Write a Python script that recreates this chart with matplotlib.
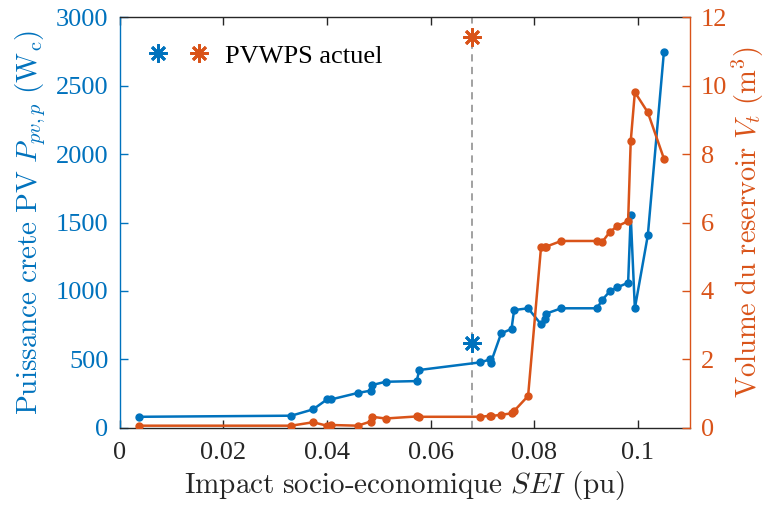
import matplotlib
matplotlib.use("Agg")
import matplotlib.pyplot as plt
from matplotlib.lines import Line2D
from matplotlib.legend_handler import HandlerTuple

# Socio-economic impact of each candidate design (pu)
sei = [0.0038, 0.0331, 0.0373, 0.0400, 0.0408, 0.0459, 0.0484, 0.0487, 0.0513,
       0.0573, 0.0578, 0.0696, 0.0715, 0.0716, 0.0736, 0.0756, 0.0761, 0.0788,
       0.0813, 0.0821, 0.0822, 0.0852, 0.0921, 0.0931, 0.0946, 0.0960, 0.0981,
       0.0986, 0.0994, 0.1019, 0.1050]
# PV peak power (Wc)
p_pv = [80, 88, 134, 207, 207, 254, 271, 312, 336,
        341, 422, 478, 500, 475, 690, 722, 860, 873,
        756, 792, 833, 873, 873, 934, 999, 1026, 1060,
        1552, 873, 1406, 2744]
# Tank volume (m3)
v_t = [0.06, 0.06, 0.16, 0.06, 0.08, 0.06, 0.18, 0.32, 0.27,
       0.33, 0.32, 0.32, 0.35, 0.34, 0.38, 0.42, 0.49, 0.93,
       5.29, 5.29, 5.29, 5.46, 5.46, 5.43, 5.73, 5.89, 6.04,
       8.37, 9.81, 9.22, 7.87]

# Current installed system
sei_current = 0.068
p_current = 617
v_current = 11.41

x_ticks = [0, 0.02, 0.04, 0.06, 0.08, 0.1]
x_tick_labels = ["0", "0.02", "0.04", "0.06", "0.08", "0.1"]
p_ticks = [0, 500, 1000, 1500, 2000, 2500, 3000]
v_ticks = [0, 2, 4, 6, 8, 10, 12]

BLUE = "#0072BD"
ORANGE = "#D95319"
DARK = "#262626"
ASTERISK = (8, 2, 0)

plt.rcParams["font.family"] = ["Liberation Serif", "DejaVu Serif"]
plt.rcParams["mathtext.fontset"] = "cm"

fig = plt.figure(figsize=(7.69, 5.08), dpi=100)
ax = fig.add_axes([0.1557, 0.158, 0.7413, 0.808])
ax2 = ax.twinx()

ax.axvline(sei_current, color="#9a9a9a", ls=(0, (4, 3)), lw=1.3, zorder=1)
ax.plot(sei, p_pv, "-o", color=BLUE, lw=1.8, ms=5, zorder=3)
ax.plot([sei_current], [p_current], ls="none", marker=ASTERISK, color=BLUE,
        ms=13, mew=2, zorder=3)
ax2.plot(sei, v_t, "-o", color=ORANGE, lw=1.8, ms=5, zorder=3)
ax2.plot([sei_current], [v_current], ls="none", marker=ASTERISK, color=ORANGE,
         ms=13, mew=2, zorder=3)

ax.set_xlim(0, 0.11)
ax.set_ylim(0, 3000)
ax2.set_ylim(0, 12)
ax.set_xticks(x_ticks)
ax.set_xticklabels(x_tick_labels)
ax.set_yticks(p_ticks)
ax2.set_yticks(v_ticks)

ax.tick_params(axis="x", direction="in", length=6, width=1, top=True,
               colors=DARK, labelsize=19, pad=10)
ax.tick_params(axis="y", direction="in", length=6, width=1, right=False,
               colors=BLUE, labelsize=19, pad=8)
ax2.tick_params(axis="y", direction="in", length=6, width=1, left=False,
                colors=ORANGE, labelsize=19, pad=8)

for s in ("top", "bottom"):
    ax.spines[s].set_color(DARK)
ax.spines["left"].set_color(BLUE)
ax.spines["right"].set_visible(False)
for s in ("top", "bottom", "left"):
    ax2.spines[s].set_visible(False)
ax2.spines["right"].set_color(ORANGE)
for s in ax.spines.values():
    s.set_linewidth(1.0)
ax2.spines["right"].set_linewidth(1.0)

ax.set_xlabel(r"$\mathrm{Impact\ socio\text{-}economique}\ SEI\ \mathrm{(pu)}$",
              fontsize=21, color=DARK, labelpad=4)
ax.set_ylabel(r"$\mathrm{Puissance\ crete\ PV}\ P_{pv,p}\ \mathrm{(W_c)}$",
              fontsize=21, color=BLUE, labelpad=6)
ax2.set_ylabel(r"$\mathrm{Volume\ du\ reservoir}\ V_t\ \mathrm{(m^3)}$",
               fontsize=20.5, color=ORANGE, labelpad=2)

h_blue = Line2D([], [], ls="none", marker=ASTERISK, color=BLUE, ms=13, mew=2)
h_orange = Line2D([], [], ls="none", marker=ASTERISK, color=ORANGE, ms=13, mew=2)
fig.legend([(h_blue, h_orange)], ["PVWPS actuel"],
           handler_map={tuple: HandlerTuple(ndivide=None, pad=0.5)},
           loc="center left", bbox_to_anchor=(0.188, 0.89),
           frameon=False, fontsize=19, borderpad=0, borderaxespad=0,
           handlelength=2.6, handletextpad=0.45)

fig.savefig("out.png", dpi=100)
